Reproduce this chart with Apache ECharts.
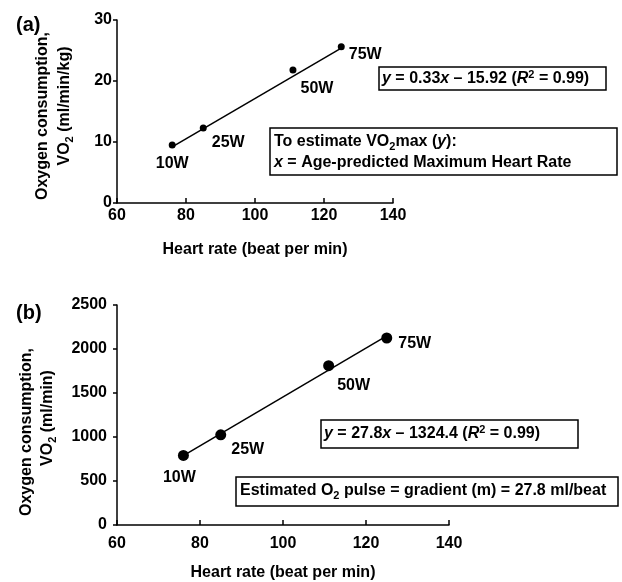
<!DOCTYPE html>
<html><head><meta charset="utf-8">
<script src="https://cdn.jsdelivr.net/npm/echarts@6/dist/echarts.min.js"></script>
<style>html,body{margin:0;padding:0;background:#fff}#c{width:622px;height:582px}</style>
</head><body><div id="c"></div>
<script>
// ---- data ----
const stages = ['10W', '25W', '50W', '75W'];
const heartRateA = [76, 85, 111, 125];
const vo2KgA = [9.5, 12.3, 21.8, 25.6];
const heartRateB = [76, 85, 111, 125];
const vo2MinB = [790, 1025, 1810, 2125];
const fitLineAx = [76, 125];
const fitLineAy = [9.2, 25.4];
const fitLineBx = [76, 125];
const fitLineBy = [788, 2150];
const xTicks = [60, 80, 100, 120, 140];
const yTicksA = [0, 10, 20, 30];
const yTicksB = [0, 500, 1000, 1500, 2000, 2500];

// ---- styles ----
const FONT = 'Liberation Sans, Arial, Helvetica, sans-serif';
const FS = 16;
const labelOffsetsA = [[0, 19], [25, 15], [24, 19], [24, 8]];
const labelOffsetsB = [[-4, 22], [27, 15], [25, 20], [28, 6]];

const chart = echarts.init(document.getElementById('c'), null, {renderer: 'canvas'});

function axisCommon() {
  return {
    axisLine: {show: true, lineStyle: {color: '#000', width: 1.5}},
    splitLine: {show: false},
    axisLabel: {color: '#000', fontSize: FS, fontWeight: 'bold', fontFamily: FONT, formatter: v => String(v)},
    nameTextStyle: {color: '#000', fontSize: FS, fontWeight: 'bold', fontFamily: FONT}
  };
}
function xAx(gridIndex, margin, gap) {
  const c = axisCommon();
  return Object.assign(c, {
    type: 'value', gridIndex, min: xTicks[0], max: xTicks[xTicks.length - 1], interval: xTicks[1] - xTicks[0],
    axisTick: {show: true, inside: true, length: 5, lineStyle: {color: '#000', width: 1.5}},
    axisLabel: Object.assign(c.axisLabel, {margin: margin}),
    name: 'Heart rate (beat per min)', nameLocation: 'middle', nameGap: gap
  });
}
function yAx(gridIndex, ticks, margin) {
  const c = axisCommon();
  return Object.assign(c, {
    type: 'value', gridIndex, min: ticks[0], max: ticks[ticks.length - 1], interval: ticks[1] - ticks[0],
    axisTick: {show: true, inside: false, length: 4, lineStyle: {color: '#000', width: 1.5}},
    axisLabel: Object.assign(c.axisLabel, {margin: margin})
  });
}

function scatterSeries(idx, xs, ys, offs, size) {
  return {
    type: 'scatter', xAxisIndex: idx, yAxisIndex: idx, symbolSize: size,
    itemStyle: {color: '#000', opacity: 1},
    data: xs.map((x, i) => ({
      value: [x, ys[i]], name: stages[i],
      label: {show: true, position: 'inside', offset: offs[i], formatter: stages[i],
        color: '#000', opacity: 1, fontSize: FS, fontWeight: 'bold', fontFamily: FONT}
    })),
    z: 3
  };
}
function lineSeries(idx, xs, ys) {
  return {
    type: 'line', xAxisIndex: idx, yAxisIndex: idx, showSymbol: false, silent: true,
    lineStyle: {color: '#000', width: 1.5},
    data: xs.map((x, i) => [x, ys[i]]), z: 2
  };
}

const base = {fontSize: FS, fontWeight: 'bold', fontFamily: FONT, fill: '#000', lineHeight: 20};
const richBox = {
  i: {fontSize: FS, fontWeight: 'bold', fontStyle: 'italic', fontFamily: FONT, color: '#000', lineHeight: 20},
  sup: {fontSize: 11, fontWeight: 'bold', fontFamily: FONT, color: '#000', verticalAlign: 'top', lineHeight: 10},
  sub: {fontSize: 11, fontWeight: 'bold', fontFamily: FONT, color: '#000', verticalAlign: 'bottom', lineHeight: 10}
};
const YFS = 16;
const richY = {
  sub: {fontSize: 11, fontWeight: 'bold', fontFamily: FONT, color: '#000', verticalAlign: 'bottom', lineHeight: 10}
};
function box(x, y, w, h) {
  return {type: 'rect', shape: {x, y, width: w, height: h}, style: {fill: '#fff', stroke: '#000', lineWidth: 1.5}, z: 10};
}
function txt(x, y, text) {
  return {type: 'text', x, y, style: Object.assign({}, base, {text, rich: richBox, align: 'left', verticalAlign: 'middle'}), z: 11};
}
function ytxt(x, y, text) {
  return {type: 'text', x, y, rotation: Math.PI / 2,
    style: Object.assign({}, base, {text, fontSize: YFS, lineHeight: 20, rich: richY, align: 'center', verticalAlign: 'middle'}), z: 11};
}

chart.setOption({
  animation: false,
  backgroundColor: '#fff',
  grid: [
    {left: 117, top: 20, width: 276, height: 183},
    {left: 117, top: 305, width: 332, height: 222}
  ],
  xAxis: [xAx(0, 5, 39), xAx(1, 11, 40)],
  yAxis: [yAx(0, yTicksA, 5), yAx(1, yTicksB, 10)],
  series: [
    lineSeries(0, fitLineAx, fitLineAy),
    scatterSeries(0, heartRateA, vo2KgA, labelOffsetsA, 7),
    lineSeries(1, fitLineBx, fitLineBy),
    scatterSeries(1, heartRateB, vo2MinB, labelOffsetsB, 11)
  ],
  graphic: [
    {type: 'text', x: 16, y: 25, style: Object.assign({}, base, {text: '(a)', fontSize: 20, verticalAlign: 'middle'})},
    {type: 'text', x: 16, y: 313, style: Object.assign({}, base, {text: '(b)', fontSize: 20, verticalAlign: 'middle'})},
    ytxt(43, 116, 'Oxygen consumption,'),
    ytxt(65, 106, 'VO{sub|2} (ml/min/kg)'),
    ytxt(27, 432, 'Oxygen consumption,'),
    ytxt(48, 418, 'VO{sub|2} (ml/min)'),
    box(379, 67, 227, 23),
    txt(382, 79, '{i|y} = 0.33{i|x} – 15.92 ({i|R}{sup|2} = 0.99)'),
    box(270, 128, 347, 47),
    txt(274, 142, 'To estimate VO{sub|2}max ({i|y}):'),
    txt(274, 163, '{i|x} = Age-predicted Maximum Heart Rate'),
    box(321, 420, 257, 28),
    txt(324, 434, '{i|y} = 27.8{i|x} – 1324.4 ({i|R}{sup|2} = 0.99)'),
    box(236, 477, 382, 29),
    txt(240, 491, 'Estimated O{sub|2} pulse = gradient (m) = 27.8 ml/beat')
  ]
});
</script></body></html>
